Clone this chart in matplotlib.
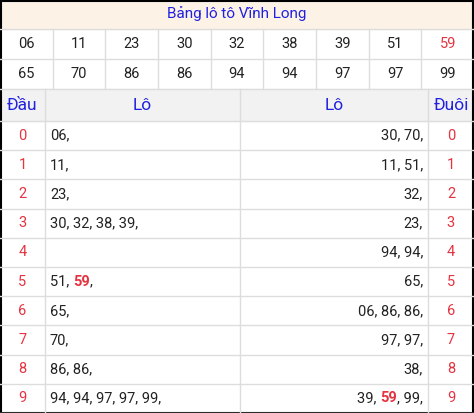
import matplotlib.pyplot as plt
from matplotlib.patches import Rectangle

title = "Bảng lô tô Vĩnh Long"
numbers = ["06", "11", "23", "30", "32", "38", "39", "51", "59",
           "65", "70", "86", "86", "94", "94", "97", "97", "99"]
special = "59"
dau_lists = [["06"], ["11"], ["23"], ["30", "32", "38", "39"], [],
             ["51", "59"], ["65"], ["70"], ["86", "86"], ["94", "94", "97", "97", "99"]]
duoi_lists = [["30", "70"], ["11", "51"], ["32"], ["23"], ["94", "94"],
              ["65"], ["06", "86", "86"], ["97", "97"], ["38"], ["39", "59", "99"]]

W, H = 474, 413
BLUE = "#2020e0"
RED = "#e53340"
GRID = "#dddddd"
FS = 10.5

plt.rcParams['font.family'] = ['Roboto', 'DejaVu Sans']
fig = plt.figure(figsize=(W / 100, H / 100), dpi=100)
ax = fig.add_axes([0, 0, 1, 1])
ax.set_xlim(0, W)
ax.set_ylim(H, 0)
ax.axis("off")
r = fig.canvas.get_renderer()

# title row
ax.add_patch(Rectangle((0, 0), W, 28.5, color="#fdf2e6", zorder=0))
ax.text(W / 2, 14, title, color=BLUE, fontsize=11, ha="center", va="center")

# number grid
cw = W / 9
for i, n in enumerate(numbers):
    row, c = divmod(i, 9)
    y = 29 + row * 30 + 15
    ax.text(c * cw + cw / 2, y, n, fontsize=FS, ha="center", va="center",
            color=RED if (n == special and i == 8) else "#222222")
for c in range(1, 9):
    ax.plot([c * cw, c * cw], [29, 89], color=GRID, lw=1)
for y in (28.5, 58.5, 89):
    ax.plot([0, W], [y, y], color=GRID, lw=1)

# header
x0, x1, x2 = 45, 240, 428
ax.add_patch(Rectangle((0, 89), W, 32, color="#f2f2f2", zorder=0))
for x, t in [(x0 / 2, "Đầu"), ((x0 + x1) / 2, "Lô"), ((x1 + x2) / 2, "Lô"), ((x2 + W) / 2, "Đuôi")]:
    ax.text(x, 105, t, color=BLUE, fontsize=12.5, ha="center", va="center")

top = 121
rh = (H - top) / 10
for x in (x0, x1, x2):
    ax.plot([x, x], [89, H], color=GRID, lw=1)
for i in range(11):
    ax.plot([0, W], [top + i * rh] * 2, color=GRID, lw=1)


def draw_list(items, x, y, ha):
    # split into plain / highlighted segments
    segs = []
    buf = ""
    for k, it in enumerate(items):
        sep = "," if k == len(items) - 1 else ", "
        if it == special:
            if buf:
                segs.append((buf, False))
            segs.append((it, True))
            buf = sep
        else:
            buf += it + sep
    if buf:
        segs.append((buf, False))
    arts = []
    for txt, hi in segs:
        t = ax.text(0, y, txt.replace(" ", "\u00a0"), fontsize=FS, va="center", ha="left",
                    color=RED if hi else "#222222", fontweight="bold" if hi else "normal")
        w = t.get_window_extent(renderer=r).width * W / fig.bbox.width
        arts.append((t, w))
    total = sum(w for _, w in arts)
    cur = x if ha == "left" else x - total
    for t, w in arts:
        t.set_x(cur)
        cur += w


for i in range(10):
    y = top + i * rh + rh / 2
    ax.text(x0 / 2, y, str(i), color=RED, fontsize=FS, ha="center", va="center")
    ax.text((x2 + W) / 2, y, str(i), color=RED, fontsize=FS, ha="center", va="center")
    draw_list(dau_lists[i], x0 + 5, y, "left")
    draw_list(duoi_lists[i], x2 - 5, y, "right")

ax.add_patch(Rectangle((0.5, 0.5), W - 1, H - 1, fill=False, ec="black", lw=1.5))
fig.savefig("out.png", dpi=100)
